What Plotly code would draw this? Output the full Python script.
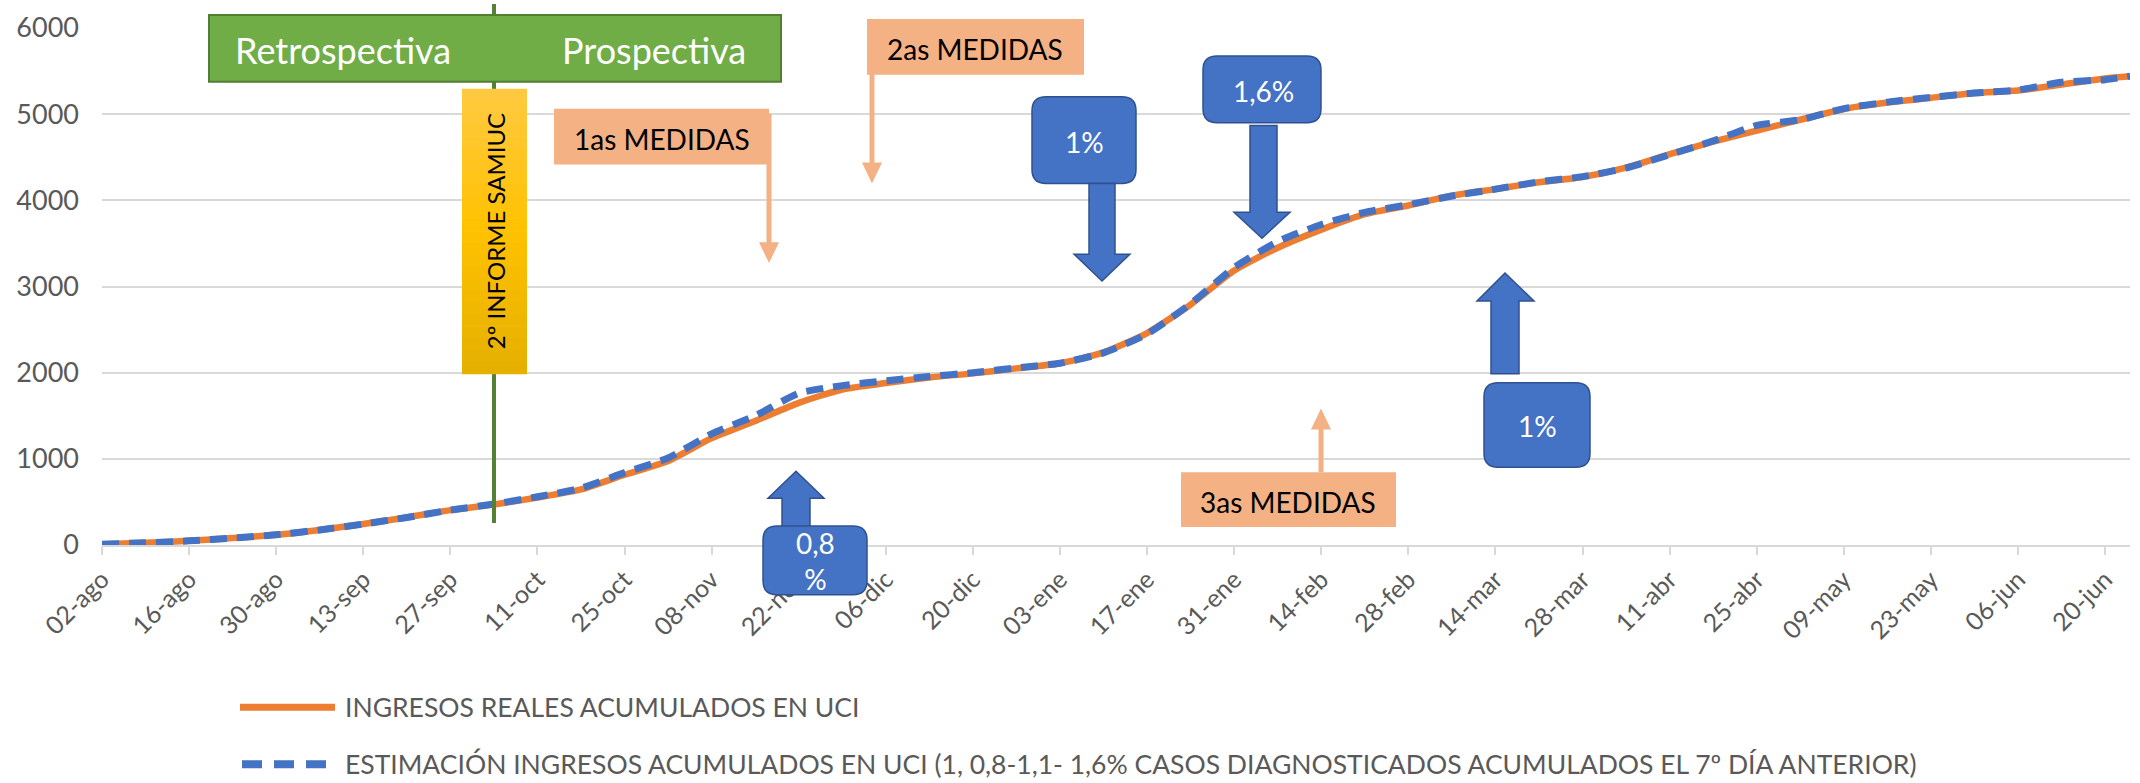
import plotly.graph_objects as go

# ---------------- data ----------------
dates = [
    "2020-08-02", "2020-08-09", "2020-08-16", "2020-08-23", "2020-08-30",
    "2020-09-06", "2020-09-13", "2020-09-20", "2020-09-27", "2020-10-04",
    "2020-10-11", "2020-10-18", "2020-10-25", "2020-11-01", "2020-11-08",
    "2020-11-15", "2020-11-22", "2020-11-29", "2020-12-06", "2020-12-13",
    "2020-12-20", "2020-12-27", "2021-01-03", "2021-01-10", "2021-01-17",
    "2021-01-24", "2021-01-31", "2021-02-07", "2021-02-14", "2021-02-21",
    "2021-02-28", "2021-03-07", "2021-03-14", "2021-03-21", "2021-03-28",
    "2021-04-04", "2021-04-11", "2021-04-18", "2021-04-25", "2021-05-02",
    "2021-05-09", "2021-05-16", "2021-05-23", "2021-05-30", "2021-06-06",
    "2021-06-13", "2021-06-20", "2021-06-24",
]

ingresos_reales = [
    10, 25, 48, 80, 118, 175, 243, 320, 405, 470,
    551, 645, 815, 975, 1240, 1440, 1650, 1805, 1880, 1945,
    1992, 2050, 2110, 2235, 2460, 2790, 3185, 3450, 3660, 3840,
    3940, 4055, 4130, 4210, 4270, 4380, 4535, 4680, 4810, 4935,
    5060, 5135, 5190, 5245, 5275, 5345, 5415, 5440,
]

estimacion = [
    10, 25, 48, 80, 118, 175, 243, 320, 405, 475,
    560, 660, 840, 1010, 1290, 1500, 1760, 1850, 1905, 1955,
    2000, 2055, 2110, 2230, 2450, 2800, 3220, 3520, 3720, 3860,
    3950, 4050, 4130, 4215, 4275, 4375, 4530, 4690, 4870, 4935,
    5065, 5140, 5195, 5245, 5280, 5370, 5400, 5440,
]

tick_dates = [
    "2020-08-02", "2020-08-16", "2020-08-30", "2020-09-13", "2020-09-27",
    "2020-10-11", "2020-10-25", "2020-11-08", "2020-11-22", "2020-12-06",
    "2020-12-20", "2021-01-03", "2021-01-17", "2021-01-31", "2021-02-14",
    "2021-02-28", "2021-03-14", "2021-03-28", "2021-04-11", "2021-04-25",
    "2021-05-09", "2021-05-23", "2021-06-06", "2021-06-20",
]
tick_labels = [
    "02-ago", "16-ago", "30-ago", "13-sep", "27-sep", "11-oct", "25-oct",
    "08-nov", "22-nov", "06-dic", "20-dic", "03-ene", "17-ene", "31-ene",
    "14-feb", "28-feb", "14-mar", "28-mar", "11-abr", "25-abr", "09-may",
    "23-may", "06-jun", "20-jun",
]

name_real = "INGRESOS REALES ACUMULADOS EN UCI"
name_est = ("ESTIMACIÓN INGRESOS ACUMULADOS EN UCI (1, 0,8-1,1- 1,6% CASOS "
            "DIAGNOSTICADOS ACUMULADOS EL 7º DÍA ANTERIOR)")

# ---------------- geometry / style ----------------
W, H = 2140, 783
ML, MR, MT, MB = 102, 10, 26, 238
PW = W - ML - MR
PH = H - MT - MB
FONT = "Lato, 'Open Sans', sans-serif"
GREY = "#595959"
ORANGE = "#ED7D31"
BLUE = "#4472C4"
BLUE_EDGE = "#2F528F"
SALMON = "#F4B183"


def px(x):
    return (x - ML) / PW


def py(y):
    return (MT + PH - y) / PH


def rect(x0, y0, x1, y1, fill, line=None, lw=0):
    return dict(type="rect", xref="paper", yref="paper",
                x0=px(x0), x1=px(x1), y0=py(y1), y1=py(y0),
                fillcolor=fill, line=dict(color=line or fill, width=lw))


def poly(points, fill, line=None, lw=0):
    d = "M " + " L ".join(f"{px(x):.5f},{py(y):.5f}" for x, y in points) + " Z"
    return dict(type="path", xref="paper", yref="paper", path=d,
                fillcolor=fill, line=dict(color=line or fill, width=lw))


def rrect(x0, y0, x1, y1, r, fill, line, lw):
    def P(x, y):
        return f"{px(x):.5f},{py(y):.5f}"
    d = (f"M {P(x0 + r, y0)} L {P(x1 - r, y0)} Q {P(x1, y0)} {P(x1, y0 + r)} "
         f"L {P(x1, y1 - r)} Q {P(x1, y1)} {P(x1 - r, y1)} "
         f"L {P(x0 + r, y1)} Q {P(x0, y1)} {P(x0, y1 - r)} "
         f"L {P(x0, y0 + r)} Q {P(x0, y0)} {P(x0 + r, y0)} Z")
    return dict(type="path", xref="paper", yref="paper", path=d,
                fillcolor=fill, line=dict(color=line, width=lw))


def vline(x, y0, y1, color, width, dash="solid"):
    return dict(type="line", xref="paper", yref="paper",
                x0=px(x), x1=px(x), y0=py(y0), y1=py(y1),
                line=dict(color=color, width=width, dash=dash))


def hline(x0, x1, y, color, width, dash="solid"):
    return dict(type="line", xref="paper", yref="paper",
                x0=px(x0), x1=px(x1), y0=py(y), y1=py(y),
                line=dict(color=color, width=width, dash=dash))


def text(x, y, s, size, color="black", angle=0, xanchor="center"):
    return dict(xref="paper", yref="paper", x=px(x), y=py(y), text=s,
                showarrow=False, xanchor=xanchor, yanchor="middle",
                textangle=angle, font=dict(family=FONT, size=size, color=color))


# ---------------- figure ----------------
fig = go.Figure()
fig.add_trace(go.Scatter(x=dates, y=ingresos_reales, mode="lines", name=name_real,
                         line=dict(color=ORANGE, width=6.5, shape="spline", smoothing=0.6)))
fig.add_trace(go.Scatter(x=dates, y=estimacion, mode="lines", name=name_est,
                         line=dict(color=BLUE, width=7, dash="17px,10px",
                                   shape="spline", smoothing=0.6)))

shapes = []
annotations = []

# vertical green line (2º informe)
shapes.append(vline(494, 2, 523, "#548235", 4))
# green header box
shapes.append(rect(209, 13, 781, 80, "#70AD47", "#507E32", 2))
annotations.append(text(343, 48, "Retrospectiva", 36, "white"))
annotations.append(text(654, 48, "Prospectiva", 36, "white"))

# yellow gradient box
y0, y1 = 87, 373
nb = 24
top, mid, bot = (255, 202, 66), (255, 194, 0), (228, 176, 0)
for i in range(nb):
    t = (i + 0.5) / nb
    if t < 0.5:
        a, b, u = top, mid, t / 0.5
    else:
        a, b, u = mid, bot, (t - 0.5) / 0.5
    c = tuple(int(a[k] + (b[k] - a[k]) * u) for k in range(3))
    ya = y0 + (y1 - y0) * i / nb
    yb = y0 + (y1 - y0) * (i + 1) / nb + 0.6
    shapes.append(rect(462, ya, 527, yb, "rgb(%d,%d,%d)" % c))
annotations.append(text(495, 230, "2º INFORME SAMIUC", 24, "black", angle=-90))

# salmon "medidas" boxes with thin arrows
shapes.append(rect(554, 107, 769, 163, SALMON))
shapes.append(vline(769, 112, 244, SALMON, 5))
shapes.append(poly([(759, 241), (779, 241), (769, 262)], SALMON))
annotations.append(text(662, 137, "1as MEDIDAS", 28))

shapes.append(rect(867, 17, 1084, 73, SALMON))
shapes.append(vline(872, 70, 164, SALMON, 5))
shapes.append(poly([(862, 161), (882, 161), (872, 182)], SALMON))
annotations.append(text(975, 47, "2as MEDIDAS", 28))

shapes.append(rect(1181, 472, 1396, 527, SALMON))
shapes.append(vline(1321, 472, 426, SALMON, 5))
shapes.append(poly([(1311, 429), (1331, 429), (1321, 408)], SALMON))
annotations.append(text(1288, 502, "3as MEDIDAS", 28))

# blue boxes and block arrows
# 1% (down)
shapes.append(rrect(1032, 95, 1136, 182, 14, BLUE, BLUE_EDGE, 1.5))
shapes.append(poly([(1089, 182), (1115, 182), (1115, 253), (1130, 253), (1102, 280),
                    (1074, 253), (1089, 253)], BLUE, BLUE_EDGE, 1.5))
annotations.append(text(1084, 140, "1%", 28, "white"))
# 1,6% (down)
shapes.append(rrect(1203, 54, 1321, 121, 14, BLUE, BLUE_EDGE, 1.5))
shapes.append(poly([(1250, 124), (1277, 124), (1277, 211), (1290, 211), (1262, 237),
                    (1234, 211), (1250, 211)], BLUE, BLUE_EDGE, 1.5))
annotations.append(text(1263, 89, "1,6%", 28, "white"))
# 1% (up)
shapes.append(poly([(1491, 373), (1519, 373), (1519, 300), (1534, 300), (1505, 272),
                    (1477, 300), (1491, 300)], BLUE, BLUE_EDGE, 1.5))
shapes.append(rrect(1484, 382, 1590, 467, 14, BLUE, BLUE_EDGE, 1.5))
annotations.append(text(1537, 426, "1%", 28, "white"))
# 0,8% (up)
shapes.append(poly([(782, 527), (810, 527), (810, 498), (824, 498), (796, 471),
                    (768, 498), (782, 498)], BLUE, BLUE_EDGE, 1.5))
shapes.append(rrect(763, 526, 867, 595, 14, BLUE, BLUE_EDGE, 1.5))
annotations.append(text(815, 561, "0,8<br>%", 28, "white"))

# custom legend (long line swatches as in the reference)
shapes.append(hline(240, 335, 708, ORANGE, 7))
annotations.append(text(343, 708, name_real, 26.5, GREY, xanchor="left"))
shapes.append(hline(242, 335, 765, BLUE, 8, dash="20px,12px"))
annotations.append(text(343, 765, name_est, 26.5, GREY, xanchor="left"))

fig.update_layout(
    width=W, height=H,
    margin=dict(l=ML, r=MR, t=MT, b=MB, pad=0),
    paper_bgcolor="white", plot_bgcolor="white",
    showlegend=False,
    font=dict(family=FONT, color=GREY),
    shapes=shapes, annotations=annotations,
    xaxis=dict(type="date", range=["2020-08-02", "2021-06-24"],
               tickmode="array", tickvals=tick_dates, ticktext=tick_labels,
               tickangle=-45, tickfont=dict(family=FONT, size=25, color=GREY),
               showgrid=False, zeroline=False,
               showline=True, linecolor="#D9D9D9", linewidth=2,
               ticks="outside", ticklen=8, tickwidth=2, tickcolor="#D9D9D9"),
    yaxis=dict(range=[0, 6000], tickmode="linear", tick0=0, dtick=1000,
               tickfont=dict(family=FONT, size=27, color=GREY),
               showgrid=True, gridcolor="#D9D9D9", gridwidth=2,
               zeroline=False, showline=False, ticklabelstandoff=22),
)

fig.write_html("out.html", config={"displayModeBar": False},
               post_script="document.body.style.margin='0';")
